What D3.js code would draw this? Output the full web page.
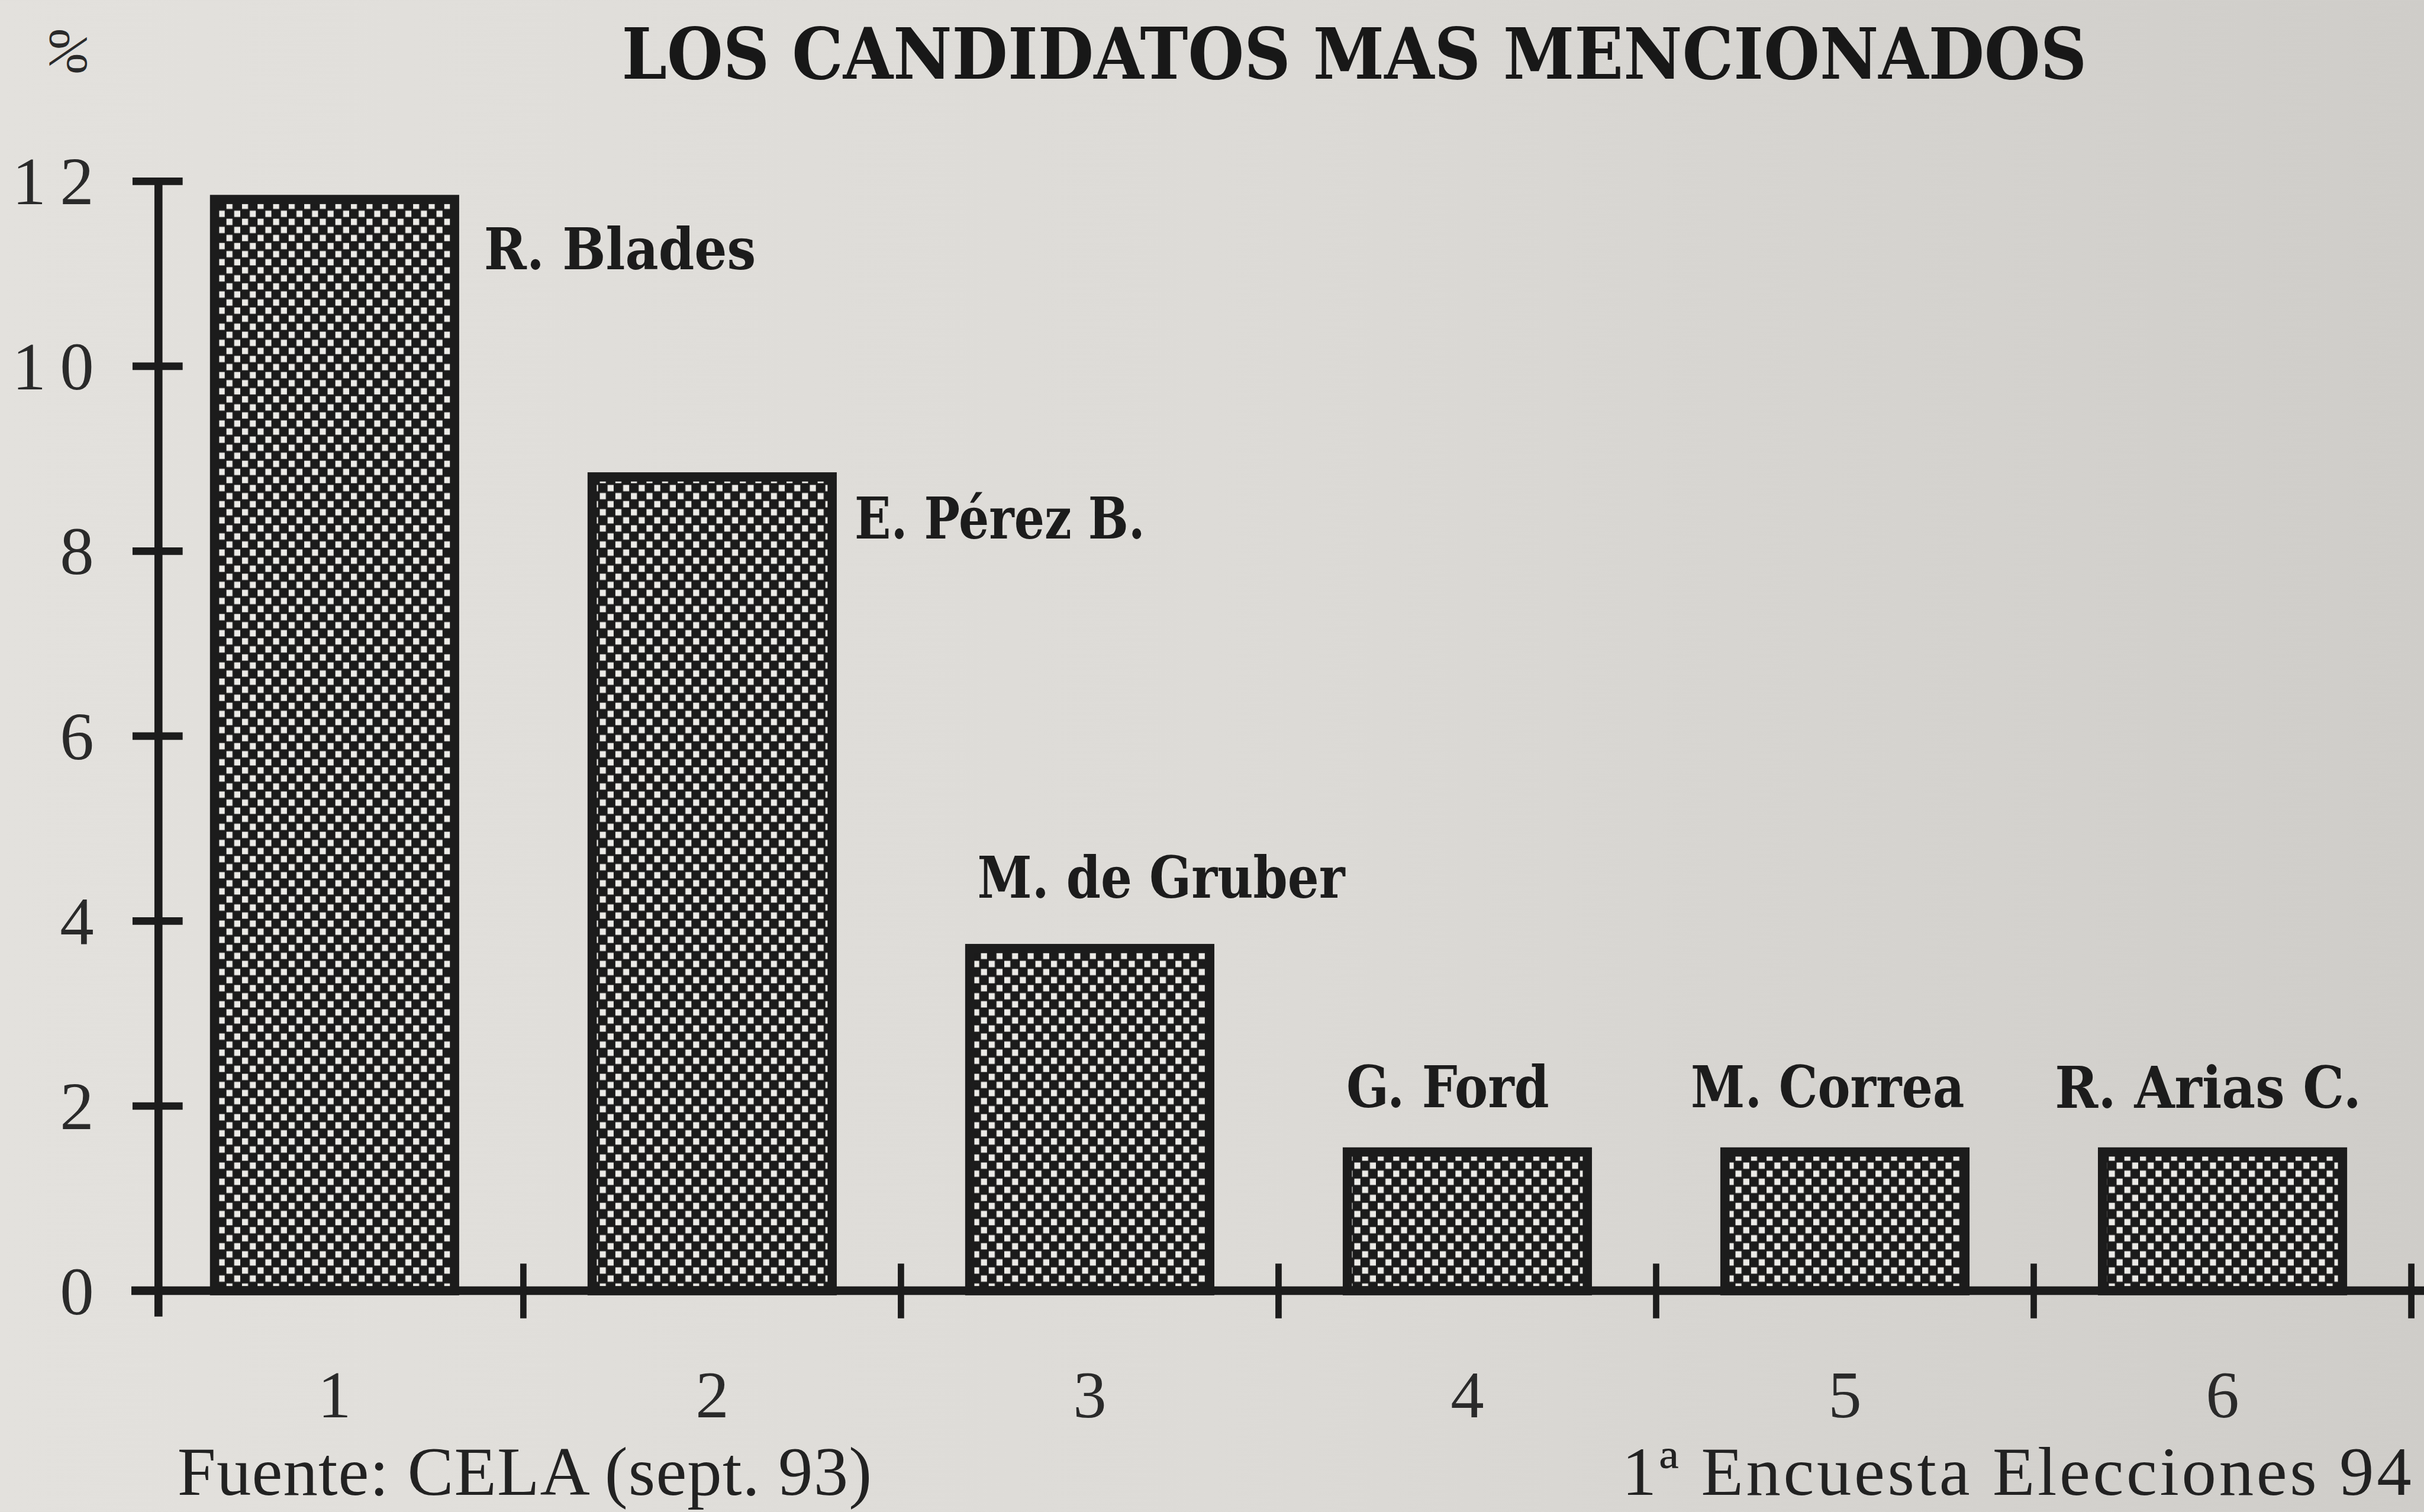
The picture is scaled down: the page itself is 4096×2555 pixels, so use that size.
<!DOCTYPE html>
<html>
<head>
<meta charset="utf-8">
<script src="https://cdn.jsdelivr.net/npm/d3@7"></script>
<style>
  html, body { margin: 0; padding: 0; background: #dad8d4; overflow: hidden; }
  svg { display: block; }
</style>
</head>
<body>
<svg id="chart" width="4096" height="2555" viewBox="0 0 4207 2624"></svg>
<script>
// Datos del gráfico
const candidates = ['R. Blades', 'E. Pérez B.', 'M. de Gruber', 'G. Ford', 'M. Correa', 'R. Arias C.'];
const positions = ['1', '2', '3', '4', '5', '6'];
const percentages = [11.8, 8.8, 3.7, 1.5, 1.5, 1.5];
const yTicks = [0, 2, 4, 6, 8, 10, 12];

const TITLE = 'LOS CANDIDATOS MAS MENCIONADOS';
const SOURCE = 'Fuente: CELA (sept. 93)';
const SURVEY = '1ª Encuesta Elecciones 94';
const Y_UNIT = '%';

// Dimensiones (en unidades de la imagen original, el viewBox escala a la ventana)
const X0 = 253, X1 = 4185;
const Y_BASE = 2240, Y_TOP = 314;
const AXIS_X = 275;
const BORDER = 16;
const INK = '#1c1c1c';
const SERIF = '"Liberation Serif", "Times New Roman", serif';
const BOLD_SERIF = '"DejaVu Serif", "Liberation Serif", serif';

// Ubicación de cada etiqueta respecto a su barra
const LABEL_LAYOUT = [
  { side: 'right', dx: 43, dy: 121, w: 472 },
  { side: 'right', dx: 31, dy: 107, w: 504 },
  { side: 'top', dx: 124, dy: -88, w: 638 },
  { side: 'top', dx: -34, dy: -78, w: 352 },
  { side: 'top', dx: -30, dy: -78, w: 475 },
  { side: 'top', dx: -25, dy: -77, w: 532 }
];

const svg = d3.select('#chart');

// Fondo de papel
const defs = svg.append('defs');
const grad = defs.append('linearGradient').attr('id', 'paper')
  .attr('x1', 0).attr('x2', 1).attr('y1', 0).attr('y2', 0);
grad.append('stop').attr('offset', 0).attr('stop-color', '#e3e1dd');
grad.append('stop').attr('offset', 0.5).attr('stop-color', '#dddbd7');
grad.append('stop').attr('offset', 1).attr('stop-color', '#cfcdc9');

// Trama de cuadritos para las barras
const pat = defs.append('pattern').attr('id', 'checker')
  .attr('patternUnits', 'userSpaceOnUse').attr('width', 27).attr('height', 28);
pat.append('rect').attr('width', 27).attr('height', 28).attr('fill', '#1b1b1b');
pat.append('rect').attr('x', 1.5).attr('y', 1.5).attr('width', 10.5).attr('height', 11).attr('fill', '#ecebe7');
pat.append('rect').attr('x', 15).attr('y', 15.5).attr('width', 10.5).attr('height', 11).attr('fill', '#ecebe7');

svg.append('rect').attr('width', 4207).attr('height', 2624).attr('fill', 'url(#paper)');

// Escalas
const x = d3.scaleBand().domain(positions).range([X0, X1]).paddingInner(0.34).paddingOuter(0.17);
const xEdge = d3.scaleLinear().domain([0, positions.length]).range([X0, X1]);
const y = d3.scaleLinear().domain([0, 12]).range([Y_BASE, Y_TOP]);

// Barras
svg.append('g').selectAll('rect')
  .data(percentages)
  .enter()
  .append('rect')
  .attr('x', (d, i) => x(positions[i]) + BORDER / 2)
  .attr('y', d => y(d))
  .attr('width', x.bandwidth() - BORDER)
  .attr('height', d => Y_BASE - y(d))
  .attr('fill', 'url(#checker)')
  .attr('stroke', INK)
  .attr('stroke-width', BORDER);

// Eje Y
const yAxis = svg.append('g')
  .attr('transform', `translate(${AXIS_X},0)`)
  .call(d3.axisLeft(y).tickValues(yTicks).tickSize(0).tickPadding(0));
yAxis.select('.domain').remove();
yAxis.selectAll('.tick line')
  .attr('x1', -45).attr('x2', 42)
  .attr('stroke', INK).attr('stroke-width', 13);
yAxis.selectAll('.tick text')
  .attr('x', -88)
  .attr('dy', '0.34em')
  .attr('fill', '#2a2a2a')
  .style('font-family', SERIF)
  .style('font-size', '118px')
  .style('letter-spacing', '24px');
svg.append('line')
  .attr('x1', AXIS_X).attr('x2', AXIS_X)
  .attr('y1', y(12)).attr('y2', Y_BASE + 45)
  .attr('stroke', INK).attr('stroke-width', 14);

// Eje X
const xAxis = svg.append('g')
  .attr('transform', `translate(0,${Y_BASE})`)
  .call(d3.axisBottom(x).tickSize(0).tickPadding(0));
xAxis.select('.domain').remove();
xAxis.selectAll('.tick text')
  .attr('y', 220)
  .attr('dy', 0)
  .attr('fill', '#2a2a2a')
  .style('font-family', SERIF)
  .style('font-size', '116px');
svg.append('line')
  .attr('x1', AXIS_X - 47).attr('x2', 4207)
  .attr('y1', Y_BASE).attr('y2', Y_BASE)
  .attr('stroke', INK).attr('stroke-width', 15);
svg.append('g').selectAll('line')
  .data(d3.range(1, positions.length + 1))
  .enter()
  .append('line')
  .attr('x1', d => xEdge(d)).attr('x2', d => xEdge(d))
  .attr('y1', Y_BASE - 47).attr('y2', Y_BASE + 48)
  .attr('stroke', INK).attr('stroke-width', 11);

// Nombres de los candidatos
svg.append('g').selectAll('text')
  .data(candidates)
  .enter()
  .append('text')
  .attr('x', (d, i) => {
    const L = LABEL_LAYOUT[i];
    const pos = positions[i];
    return L.side === 'right'
      ? x(pos) + x.bandwidth() + L.dx
      : x(pos) + x.bandwidth() / 2 + L.dx;
  })
  .attr('y', (d, i) => y(percentages[i]) + LABEL_LAYOUT[i].dy)
  .attr('text-anchor', (d, i) => LABEL_LAYOUT[i].side === 'right' ? 'start' : 'middle')
  .attr('textLength', (d, i) => LABEL_LAYOUT[i].w)
  .attr('lengthAdjust', 'spacingAndGlyphs')
  .attr('fill', INK)
  .style('font-family', BOLD_SERIF)
  .style('font-weight', 'bold')
  .style('font-size', '100px')
  .text(d => d);

// Título
svg.append('text')
  .attr('x', 1079).attr('y', 137)
  .attr('textLength', 2543)
  .attr('lengthAdjust', 'spacingAndGlyphs')
  .attr('fill', '#181818')
  .style('font-family', BOLD_SERIF)
  .style('font-weight', 'bold')
  .style('font-size', '123px')
  .text(TITLE);

// Unidad del eje
svg.append('text')
  .attr('transform', 'translate(116,89) matrix(0 1 1 0 0 0)')
  .attr('text-anchor', 'middle')
  .attr('dy', '0.34em')
  .attr('fill', '#2a2a2a')
  .style('font-family', SERIF)
  .style('font-size', '96px')
  .text(Y_UNIT);

// Notas al pie
svg.append('text')
  .attr('x', 308).attr('y', 2594)
  .attr('textLength', 1205)
  .attr('lengthAdjust', 'spacing')
  .attr('fill', '#222')
  .style('font-family', SERIF)
  .style('font-size', '120px')
  .text(SOURCE);

svg.append('text')
  .attr('x', 2815).attr('y', 2594)
  .attr('textLength', 1370)
  .attr('lengthAdjust', 'spacing')
  .attr('fill', '#222')
  .style('font-family', SERIF)
  .style('font-size', '120px')
  .text(SURVEY);
</script>
</body>
</html>
